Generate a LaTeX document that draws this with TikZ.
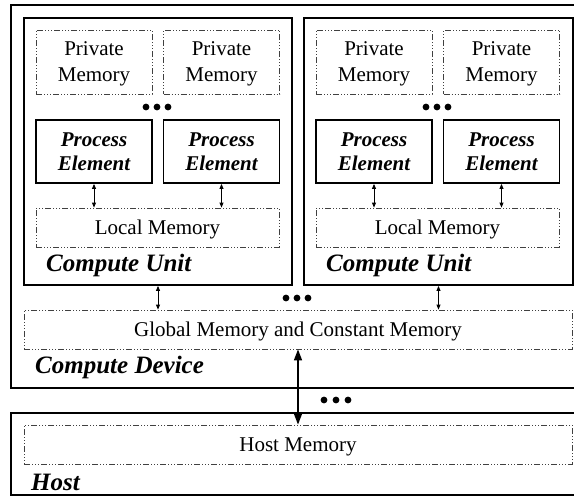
\documentclass[tikz,border=0pt]{standalone}
\usepackage{fontspec}
\setmainfont{Liberation Serif}
\usetikzlibrary{arrows.meta}
\tikzset{
  thickbox/.style={draw, line width=1.8pt, inner sep=0pt},
  memb/.style={draw=black!75, line width=0.8pt, inner sep=0pt, text depth=0pt,
    dash pattern=on 6pt off 2pt on 1pt off 2pt on 1pt off 2pt on 1pt off 2pt,
    font=\fontsize{21}{26}\selectfont, align=center},
  pmem/.style={memb, minimum width=116pt, minimum height=64pt},
  pel/.style={thickbox, minimum width=116pt, minimum height=63pt,
    font=\fontsize{21}{24}\selectfont\bfseries\itshape, align=center},
  lbl/.style={anchor=west, inner sep=0pt, font=\fontsize{25}{28}\selectfont\bfseries\itshape},
  sarr/.style={{Triangle[length=5pt,width=4pt]}-{Triangle[length=5pt,width=4pt]}, line width=0.9pt},
  barr/.style={{Triangle[length=11pt,width=8pt]}-{Triangle[length=11pt,width=8pt]}, line width=1.6pt},
  dotc/.style={fill=black}
}
\begin{document}
\begin{tikzpicture}[x=1pt,y=-1pt]
\useasboundingbox (0,0) rectangle (574,496);
% outer boxes
\node[thickbox, minimum width=569pt, minimum height=383pt] (dev) at (295.5,196.5) {};
\node[thickbox, minimum width=569pt, minimum height=82pt] (host) at (295.5,454) {};
% compute units
\node[thickbox, minimum width=268pt, minimum height=267pt] (cu1) at (158,151.5) {};
\node[thickbox, minimum width=269pt, minimum height=267pt] (cu2) at (438.5,151.5) {};
% private memories
\node[pmem] (pm11) at (94,62) {Private\\Memory};
\node[pmem] (pm12) at (221.5,62) {Private\\Memory};
\node[pmem] (pm21) at (374,62) {Private\\Memory};
\node[pmem] (pm22) at (501.5,62) {Private\\Memory};
% process elements
\node[pel] (pe11) at (94,151.5) {Process\\Element};
\node[pel] (pe12) at (221.5,151.5) {Process\\Element};
\node[pel] (pe21) at (374,151.5) {Process\\Element};
\node[pel] (pe22) at (501.5,151.5) {Process\\Element};
% local memories
\node[memb, minimum width=243pt, minimum height=39pt] (lm1) at (157.5,227.5) {Local Memory};
\node[memb, minimum width=243pt, minimum height=39pt] (lm2) at (437.5,227.5) {Local Memory};
% labels
\node[lbl] (cul1) at (46,265) {Compute Unit};
\node[lbl] (cul2) at (326,265) {Compute Unit};
\node[lbl] (devl) at (35,367) {Compute Device};
\node[lbl] (hostl) at (31,482) {Host};
% global and host memory
\node[memb, minimum width=548pt, minimum height=39pt] (gm) at (298,329.5) {Global Memory and Constant Memory};
\node[memb, minimum width=548pt, minimum height=39pt] (hm) at (298,444.5) {Host Memory};
% arrows
\foreach \p/\l in {pe11/lm1, pe12/lm1, pe21/lm2, pe22/lm2}
  \draw[sarr] (\p.south) -- (\p.south |- \l.north);
\draw[sarr] (cu1.south) -- (cu1.south |- gm.north);
\draw[sarr] (cu2.south) -- (cu2.south |- gm.north);
\draw[barr] (gm.south) -- (hm.north);
% ellipsis dots
\foreach \x in {146,157,168,426,437,448}
  \fill[dotc] (\x,107) circle (3.4pt);
\foreach \x in {286,297,308}
  \fill[dotc] (\x,298) circle (3.4pt);
\foreach \x in {324,336,348}
  \fill[dotc] (\x,400) circle (3.4pt);
\end{tikzpicture}
\end{document}
